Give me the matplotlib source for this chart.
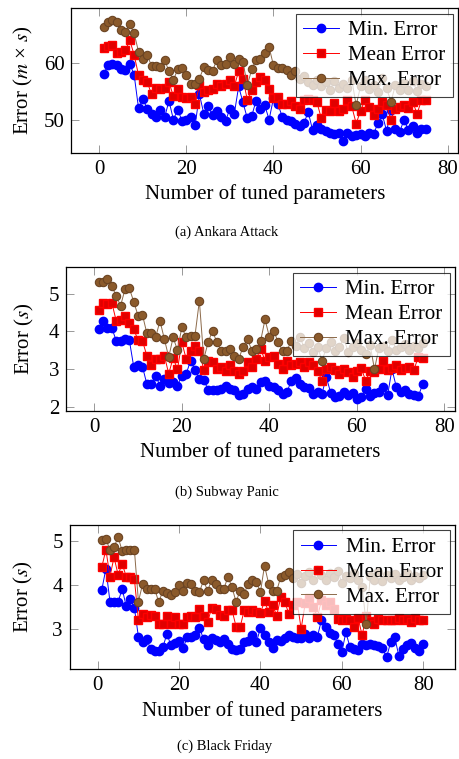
import matplotlib
matplotlib.use('Agg')
import matplotlib.pyplot as plt
from matplotlib.ticker import MultipleLocator

plt.rcParams['font.family'] = ['Liberation Serif', 'DejaVu Serif']
plt.rcParams['mathtext.fontset'] = 'stix'

# (a) Ankara Attack, 75 configurations
ankara_min = [58.0, 59.6, 59.8, 59.5, 58.8, 58.7, 59.8, 57.8, 52.0, 53.6,
              51.9, 51.0, 50.5, 51.6, 50.4, 53.3, 50.0, 51.7, 49.8, 50.0,
              50.5, 49.0, 54.4, 51.0, 52.3, 50.8, 51.5, 50.4, 49.8, 51.9,
              51.0, 55.8, 53.0, 50.2, 50.6, 53.3, 51.8, 52.5, 50.0, 53.7,
              52.8, 50.5, 50.0, 49.7, 49.3, 48.8, 49.4, 51.3, 48.1, 49.0,
              48.4, 48.0, 47.7, 47.5, 47.6, 46.3, 47.7, 47.2, 47.3, 47.5,
              47.2, 47.6, 47.4, 49.4, 50.9, 48.0, 51.6, 48.3, 47.9, 49.9,
              48.2, 48.8, 47.7, 48.3, 48.3]
ankara_mean = [62.6, 62.9, 63.0, 61.7, 61.9, 62.2, 63.9, 61.3, 57.8, 56.9,
               56.6, 54.4, 55.6, 55.3, 55.6, 56.6, 54.1, 55.4, 54.0, 53.8,
               53.9, 52.7, 56.0, 54.9, 55.1, 55.4, 56.3, 55.8, 56.3, 56.9,
               55.8, 58.5, 57.2, 53.4, 55.1, 56.6, 57.5, 56.9, 55.4, 53.7,
               54.0, 52.8, 52.7, 53.2, 52.4, 51.9, 53.4, 53.6, 53.4, 53.0,
               50.2, 51.6, 51.5, 52.9, 51.5, 51.8, 53.4, 52.3, 49.3, 51.5,
               53.4, 52.2, 50.8, 51.9, 53.1, 52.5, 49.9, 51.9, 52.2, 52.5,
               52.0, 53.1, 51.0, 53.4, 53.4]
ankara_max = [66.3, 67.1, 67.4, 67.1, 65.7, 65.4, 66.7, 65.1, 61.9, 60.7,
              61.3, 59.4, 59.4, 59.2, 60.4, 58.5, 56.9, 58.8, 59.0, 57.8,
              56.3, 56.3, 57.2, 59.2, 58.7, 58.5, 60.5, 59.5, 59.8, 61.0,
              59.8, 60.7, 60.1, 56.0, 58.8, 60.5, 60.7, 61.6, 62.7, 59.5,
              59.0, 59.0, 58.7, 57.8, 58.6, 57.2, 57.6, 56.5, 56.0, 57.0,
              55.8, 56.5, 55.2, 56.8, 55.5, 56.2, 55.6, 57.0, 52.5, 55.8,
              56.9, 55.4, 56.1, 54.8, 57.3, 55.5, 53.1, 56.0, 55.2, 56.4,
              55.1, 56.7, 55.0, 56.2, 55.8]

# (b) Subway Panic, 75 configurations
subway_min = [4.06, 4.28, 4.08, 4.10, 3.75, 3.75, 3.80, 3.77, 3.07, 3.10,
              3.07, 2.61, 2.60, 2.83, 2.57, 2.75, 2.63, 2.66, 2.57, 2.83,
              2.88, 3.23, 2.98, 2.75, 2.72, 2.46, 2.44, 2.44, 2.48, 2.57,
              2.48, 2.44, 2.31, 2.35, 2.48, 2.53, 2.48, 2.66, 2.70, 2.57,
              2.53, 2.44, 2.35, 2.39, 2.70, 2.78, 2.62, 2.53, 2.50, 2.35,
              2.40, 2.35, 2.79, 2.38, 2.26, 2.28, 2.39, 2.32, 2.36, 2.22,
              2.26, 2.48, 2.30, 2.38, 2.40, 2.53, 2.31, 3.00, 2.53, 2.39,
              2.45, 2.35, 2.33, 2.28, 2.60]
subway_mean = [4.56, 4.76, 4.72, 4.76, 4.28, 4.30, 4.41, 4.22, 4.06, 3.77,
               3.75, 3.36, 3.10, 3.27, 3.27, 3.36, 2.88, 3.30, 3.00, 3.71,
               3.27, 3.49, 3.62, 3.49, 2.98, 3.23, 3.18, 3.00, 3.05, 2.96,
               3.10, 2.96, 2.88, 2.96, 3.18, 3.05, 3.27, 3.54, 3.23, 3.32,
               3.36, 3.14, 3.00, 3.23, 3.10, 3.14, 3.20, 3.05, 3.20, 3.10,
               2.96, 2.70, 3.00, 3.05, 2.98, 2.88, 3.00, 2.93, 2.79, 2.96,
               3.02, 2.70, 2.95, 2.92, 3.00, 3.23, 2.97, 3.02, 3.10, 2.99,
               3.03, 3.05, 2.98, 3.32, 3.30]
subway_max = [5.32, 5.32, 5.38, 5.20, 4.94, 4.68, 5.11, 5.14, 4.79, 4.41,
              4.44, 3.95, 3.97, 3.84, 4.28, 3.80, 3.32, 3.84, 3.51, 4.11,
              3.84, 3.89, 3.89, 4.81, 3.27, 3.71, 4.02, 3.71, 3.49, 3.49,
              3.54, 3.36, 3.27, 3.60, 3.80, 3.49, 3.54, 3.75, 4.32, 3.85,
              4.02, 3.71, 3.49, 3.49, 3.75, 3.62, 3.85, 3.55, 3.70, 3.45,
              3.60, 3.23, 3.55, 3.72, 3.48, 3.60, 3.82, 3.45, 3.58, 3.70,
              3.52, 3.40, 3.65, 3.00, 3.55, 3.62, 3.48, 3.78, 3.52, 3.60,
              3.68, 3.50, 3.62, 3.56, 3.70]

# (c) Black Friday, 80 configurations
friday_min = [3.89, 4.37, 3.62, 3.62, 3.61, 3.91, 3.51, 3.68, 3.48, 2.81,
              2.69, 2.77, 2.54, 2.50, 2.50, 2.58, 2.88, 2.62, 2.67, 2.72,
              2.56, 2.81, 2.82, 2.85, 3.02, 2.77, 2.62, 2.79, 2.75, 2.69,
              2.77, 2.66, 2.54, 2.52, 2.54, 2.69, 2.73, 2.85, 2.69, 3.02,
              2.85, 2.70, 2.56, 2.75, 2.73, 2.80, 2.85, 2.82, 2.79, 2.78,
              2.88, 2.80, 2.86, 2.82, 3.20, 3.05, 2.90, 2.85, 2.66, 2.47,
              2.92, 2.58, 2.54, 2.52, 2.66, 2.62, 2.65, 2.62, 2.60, 2.55,
              2.35, 2.69, 2.81, 2.39, 2.54, 2.62, 2.68, 2.55, 2.50, 2.66]
friday_mean = [4.41, 4.80, 4.19, 4.63, 4.23, 4.48, 4.19, 4.18, 4.14, 3.19,
               3.34, 3.26, 3.32, 3.30, 3.10, 3.11, 3.28, 3.10, 3.26, 3.10,
               3.11, 3.26, 3.30, 3.26, 3.46, 3.30, 3.15, 3.48, 3.46, 3.32,
               3.30, 3.42, 3.43, 3.05, 3.04, 3.42, 3.38, 3.43, 3.38, 3.36,
               3.63, 3.38, 3.53, 3.30, 3.72, 3.60, 3.34, 3.55, 3.62, 3.00,
               3.58, 3.70, 3.50, 3.26, 3.65, 3.55, 3.60, 3.45, 3.23, 3.19,
               3.22, 3.20, 3.04, 3.25, 2.85, 3.30, 3.18, 3.11, 3.22, 3.19,
               3.20, 3.21, 3.19, 3.24, 3.20, 3.22, 3.15, 3.25, 3.20, 3.19]
friday_max = [5.03, 5.05, 4.79, 4.86, 5.09, 4.77, 4.79, 4.80, 4.80, 3.62,
              4.01, 3.91, 3.91, 3.91, 3.60, 3.87, 3.81, 3.76, 3.84, 3.99,
              3.87, 4.04, 4.03, 3.87, 3.84, 4.10, 3.87, 4.10, 4.03, 3.91,
              3.91, 4.18, 3.95, 3.61, 3.87, 3.80, 4.03, 4.12, 4.06, 3.84,
              4.44, 4.03, 3.87, 3.87, 4.18, 4.22, 4.29, 4.15, 4.25, 4.05,
              4.20, 4.30, 4.12, 4.35, 4.22, 4.10, 4.28, 4.18, 4.32, 4.05,
              4.20, 4.15, 4.26, 4.10, 3.95, 3.11, 4.20, 4.12, 4.30, 4.08,
              4.22, 4.16, 4.25, 4.10, 4.18, 4.28, 4.12, 4.20, 4.15, 4.22]

series_labels = ['Min. Error', 'Mean Error', 'Max. Error']
captions = ['(a) Ankara Attack', '(b) Subway Panic', '(c) Black Friday']
ylabels = ['Error ($m$ × $s$)', 'Error ($s$)', 'Error ($s$)']
ytick_steps = [10, 1, 1]

panels = [(ankara_min, ankara_mean, ankara_max),
          (subway_min, subway_mean, subway_max),
          (friday_min, friday_mean, friday_max)]

W, H = 460, 759
# axes boxes in pixels: left, top, right, bottom
boxes = [(71.5, 8.3, 458, 152.7),
         (66.3, 267.3, 455, 410.7),
         (69.7, 525, 455.3, 669.3)]
ylabel_right = [35, 36, 35]
caption_pos = [(227, 232), (227, 492), (225, 746)]

styles = [dict(color='blue', marker='o', mfc='blue', mec='blue', ms=6, lw=0.7),
          dict(color='red', marker='s', mfc='#e00000', mec='red', ms=6.2, lw=0.7),
          dict(color='#8c6a4a', marker='o', mfc='#8b5a2b', mec='#6b4423', ms=6, lw=0.7, mew=0.8)]

fig = plt.figure(figsize=(W / 100, H / 100), dpi=100)

for i, data in enumerate(panels):
    l, t, r, b = boxes[i]
    ax = fig.add_axes([l / W, 1 - b / H, (r - l) / W, (b - t) / H])
    x = list(range(1, len(data[0]) + 1))
    for vals, lab, st in zip(data, series_labels, styles):
        ax.plot(x, vals, label=lab, **st)

    ax.margins(0.1)
    ax.xaxis.set_major_locator(MultipleLocator(20))
    ax.yaxis.set_major_locator(MultipleLocator(ytick_steps[i]))
    ax.tick_params(direction='in', top=True, right=True, length=6, width=0.6,
                   color='#888888', labelsize=15, pad=5)
    for sp in ax.spines.values():
        sp.set_linewidth(0.9)

    ax.set_xlabel('Number of tuned parameters', fontsize=15, labelpad=4)
    ax.set_ylabel(ylabels[i], fontsize=15)
    ax.yaxis.set_label_coords((ylabel_right[i] - l) / (r - l), 0.5)

    leg = ax.legend(loc='upper right', fontsize=15, frameon=True, fancybox=False,
                    edgecolor='black', framealpha=0.75, borderaxespad=0.25,
                    handlelength=1.7, handletextpad=0.45, labelspacing=0.25,
                    borderpad=0.35)
    leg.get_frame().set_linewidth(0.8)

    cx, cy = caption_pos[i]
    fig.text(cx / W, 1 - cy / H, captions[i], ha='center', va='center', fontsize=10.5)

fig.savefig('out.png', dpi=100)
